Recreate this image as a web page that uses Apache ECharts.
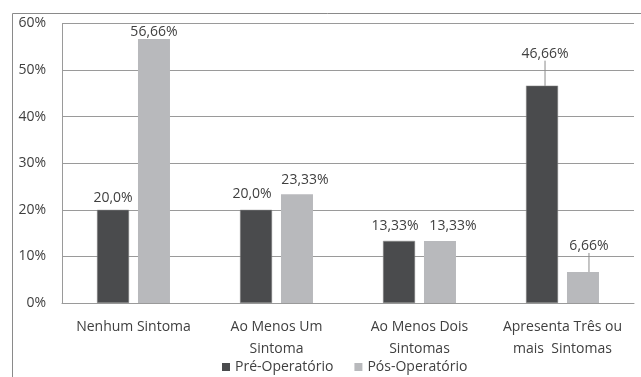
<!DOCTYPE html>
<html><head><meta charset="utf-8">
<script src="https://cdn.jsdelivr.net/npm/echarts@6/dist/echarts.min.js"></script>
<style>html,body{margin:0;padding:0;background:#fff}#c{width:641px;height:377px}</style>
</head><body><div id="c"></div>
<script>
var categories = ['Nenhum Sintoma', 'Ao Menos Um\nSintoma', 'Ao Menos Dois\nSintomas', 'Apresenta Três ou\nmais  Sintomas'];
var seriesNames = ['Pré-Operatório', 'Pós-Operatório'];
var preValues = [20, 20, 13.33, 46.66];
var posValues = [56.66, 23.33, 13.33, 6.66];
var preLabels = ['20,0%', '20,0%', '13,33%', '46,66%'];
var posLabels = ['56,66%', '23,33%', '13,33%', '6,66%'];
var yTicks = [0, 10, 20, 30, 40, 50, 60];

var FONT = '"Open Sans", sans-serif';
var TXT = '#404040';

// label nudges (Excel-style manual placement)
var preShift = [[0, 0], [-4, -4], [-4, -3], [3, -20]];
var posShift = [[0, 5], [8, -2], [13, -3], [6, -14]];

function mk(values, labels, moved) {
  return values.map(function (v, i) {
    var d = { value: v, label: { formatter: labels[i] } };
    if (moved[i]) d.labelLine = { show: true, lineStyle: { color: '#8c8c8c', width: 1 } };
    return d;
  });
}

var chart = echarts.init(document.getElementById('c'), null, { renderer: 'canvas' });
chart.setOption({
  animation: false,
  textStyle: { fontFamily: FONT },
  graphic: [{
    type: 'rect', shape: { x: 12.5, y: 13.5, width: 700, height: 400 },
    style: { fill: 'none', stroke: '#8a8a8a', lineWidth: 1 }, silent: true, z: -1
  }],
  grid: { left: 62, right: 7, top: 23.5, bottom: 74 },
  legend: {
    top: 360, left: 222, padding: 0, icon: 'rect', itemWidth: 8, itemHeight: 8, itemGap: 21,
    itemStyle: { borderWidth: 0 },
    textStyle: { fontFamily: FONT, fontSize: 14, color: TXT, padding: [0, 0, 0, 0] },
    data: seriesNames
  },
  xAxis: {
    type: 'category', data: categories,
    axisLine: { show: true, lineStyle: { color: '#9a9a9a' } },
    axisTick: { show: false },
    axisLabel: { interval: 0, margin: 13, fontFamily: FONT, fontSize: 14, color: TXT, lineHeight: 22 }
  },
  yAxis: {
    type: 'value', min: yTicks[0], max: yTicks[yTicks.length - 1], interval: 10,
    axisLine: { show: true, lineStyle: { color: '#9a9a9a' } },
    axisTick: { show: false },
    splitLine: { lineStyle: { color: '#9a9a9a' } },
    axisLabel: { margin: 16, fontFamily: FONT, fontSize: 14, color: TXT, formatter: '{value}%' }
  },
  series: [{
    name: seriesNames[0], type: 'bar', barWidth: 32, barGap: '28%',
    itemStyle: { color: '#4a4b4d', borderColor: '#8a8a8a', borderWidth: 0.5 },
    label: { show: true, position: 'top', distance: 5, fontFamily: FONT, fontSize: 14, color: TXT },
    labelLayout: function (p) { var s = preShift[p.dataIndex]; return { dx: s[0], dy: s[1] }; },
    data: mk(preValues, preLabels, [false, false, false, true])
  }, {
    name: seriesNames[1], type: 'bar', barWidth: 32,
    itemStyle: { color: '#b8b9bc' },
    label: { show: true, position: 'top', distance: 5, fontFamily: FONT, fontSize: 14, color: TXT },
    labelLayout: function (p) { var s = posShift[p.dataIndex]; return { dx: s[0], dy: s[1] }; },
    data: mk(posValues, posLabels, [false, false, false, true])
  }]
});
</script></body></html>
